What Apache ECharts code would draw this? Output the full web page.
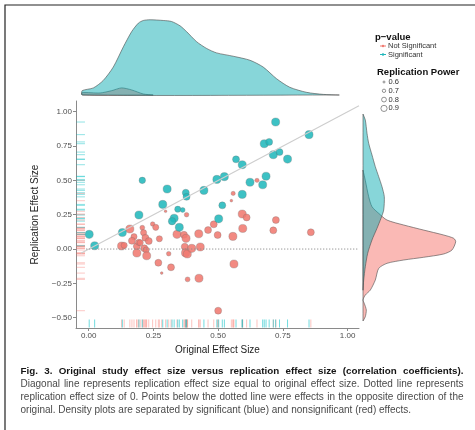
<!DOCTYPE html>
<html>
<head>
<meta charset="utf-8">
<script src="https://cdn.jsdelivr.net/npm/echarts@6/dist/echarts.min.js"></script>
<style>
html,body{margin:0;padding:0;background:#fff;}
#main{width:475px;height:430px;}
</style>
</head>
<body>
<div id="main"></div>
<script>
// significant studies: [original r, replication r, replication power]
var sigPoints = [
    [0.002,0.107,0.92],[0.023,0.024,0.92],[0.130,0.120,0.92],[0.194,0.248,0.92],[0.207,0.500,0.82],
    [0.303,0.437,0.92],[0.286,0.325,0.92],[0.344,0.290,0.80],[0.363,0.284,0.72],[0.330,0.224,0.92],
    [0.322,0.203,0.88],[0.350,0.158,0.92],[0.375,0.410,0.85],[0.378,0.380,0.85],[0.445,0.427,0.92],
    [0.495,0.507,0.92],[0.524,0.527,0.92],[0.516,0.318,0.85],[0.502,0.220,0.92],[0.569,0.653,0.85],
    [0.593,0.614,0.92],[0.722,0.925,0.92],[0.851,0.833,0.92],[0.678,0.767,0.92],[0.697,0.780,0.85],
    [0.713,0.687,0.92],[0.737,0.706,0.85],[0.768,0.655,0.92],[0.685,0.530,0.92],[0.672,0.468,0.92],
    [0.623,0.486,0.92],[0.593,0.398,0.92]
];
// not significant
var nsPoints = [
    [0.159,0.146,0.92],[0.127,0.022,0.92],[0.137,0.027,0.80],[0.175,0.090,0.80],[0.167,0.060,0.85],
    [0.186,0.020,0.85],[0.186,-0.029,0.92],[0.207,0.155,0.72],[0.212,0.119,0.80],[0.219,0.082,0.85],
    [0.232,0.058,0.85],[0.193,0.049,0.80],[0.215,0.005,0.85],[0.222,-0.007,0.80],[0.224,-0.049,0.92],
    [0.247,0.182,0.70],[0.259,0.158,0.80],[0.273,0.075,0.80],[0.269,-0.100,0.85],[0.282,-0.175,0.58],
    [0.309,-0.034,0.70],[0.318,-0.133,0.85],[0.341,0.107,0.92],[0.368,0.104,0.85],[0.376,0.078,0.92],
    [0.371,0.017,0.85],[0.374,-0.028,0.92],[0.381,-0.036,0.92],[0.398,0.005,0.92],[0.378,0.250,0.70],
    [0.382,-0.221,0.72],[0.425,0.111,0.92],[0.431,0.015,0.92],[0.426,-0.213,0.92],[0.461,0.138,0.85],
    [0.483,0.180,0.85],[0.498,0.102,0.85],[0.500,-0.449,0.85],[0.557,0.092,0.92],[0.561,-0.109,0.92],
    [0.558,0.405,0.68],[0.551,0.352,0.58],[0.650,0.500,0.68],[0.593,0.255,0.92],[0.610,0.230,0.85],
    [0.723,0.211,0.85],[0.595,0.150,0.92],[0.713,0.136,0.85],[0.858,0.122,0.85],[0.297,0.275,0.58],
    [0.199,0.046,0.80]
];
// top density (x, height)
var topSig = [[-0.025,4.3],[0.018,7],[0.056,14.3],[0.095,27.6],[0.134,47.6],[0.166,62.6],[0.192,71],
    [0.211,73.6],[0.237,74.3],[0.288,73.6],[0.320,72.6],[0.353,68.3],[0.378,62.6],[0.417,52.6],
    [0.456,45.9],[0.494,41.6],[0.558,38.3],[0.623,34.3],[0.674,27.6],[0.726,16],[0.777,7.6],
    [0.842,2.6],[0.906,0.6],[0.968,0]];
var topNs = [[-0.025,2.3],[0.044,2],[0.089,4.3],[0.127,7],[0.166,5],[0.211,1],[0.249,0]];
// right density (width, y)
var rightSig = [[0,0.983],[2.3,0.94],[4,0.843],[5.7,0.77],[9,0.685],[12.3,0.60],[15.7,0.527],[19,0.454],
    [21.3,0.381],[20.7,0.284],[18,0.224],[14,0.151],[9,0.066],[4.7,-0.031],[2.3,-0.129],[0.7,-0.226],[0,-0.30]];
var rightNs = [[0,0.575],[2.3,0.50],[5.7,0.381],[9,0.308],[15.7,0.26],[24,0.211],[40.7,0.175],[60.7,0.138],
    [80.7,0.102],[90.7,0.078],[92.7,0.053],[89,-0.007],[80.7,-0.036],[60.7,-0.06],[40.7,-0.08],[24,-0.104],
    [15.7,-0.141],[12.3,-0.226],[7.3,-0.299],[2.3,-0.335],[0,-0.371],[1.3,-0.396],[3.3,-0.444],[2.3,-0.493],[0,-0.524]];
var xTicks = [0, 0.25, 0.5, 0.75, 1];
var yTicks = [-0.5, -0.25, 0, 0.25, 0.5, 0.75, 1];
var powerLevels = ['0.6', '0.7', '0.8', '0.9'];
var diagLine = [[-0.03,-0.03],[1.044,1.044]];
var zeroLine = [[-0.01,0],[1.044,0]];

var captionBold = 'Fig. 3. Original study effect size versus replication effect size (correlation coefficients).';
var captionLines = [
    'Diagonal line represents replication effect size equal to original effect size. Dotted line represents',
    'replication effect size of 0. Points below the dotted line were effects in the opposite direction of the',
    'original. Density plots are separated by significant (blue) and nonsignificant (red) effects.'
];

var TEAL = '#22b8bc', RED = '#f07a71';
var xMin = -0.049, xMax = 1.044, yMin = -0.575, yMax = 1.078;

function fmt(v) {
    var s = Math.abs(v).toFixed(2);
    return v < 0 ? '\u2212' + s : s;
}
function ptSize(v) {
    return 2.2 + (v[2] - 0.55) * 16;
}

//  polygon for a density, closed on its baseline
function densitySeries(points, vertical, fill, gridIdx) {
    return {
        type: 'custom',
        xAxisIndex: gridIdx, yAxisIndex: gridIdx,
        silent: true,
        data: [[0, 0]],
        renderItem: function (params, api) {
            var pts = points.map(function (d) { return api.coord(d); });
            var first = points[0], last = points[points.length - 1];
            if (vertical) {
                pts.push(api.coord([0, last[1]]));
                pts.unshift(api.coord([0, first[1]]));
            } else {
                pts.push(api.coord([last[0], 0]));
                pts.unshift(api.coord([first[0], 0]));
            }
            return {
                type: 'polygon',
                shape: { points: pts, smooth: 0.25 },
                style: { fill: fill, stroke: '#4a4a4a', lineWidth: 0.6 }
            };
        }
    };
}

// 文字两端对齐
var measureCtx = document.createElement('canvas').getContext('2d');
function captionText(text, y, weight, color, size, justify) {
    var x0 = 20.5, x1 = 463.5;
    var font = weight + ' ' + size + 'px "Liberation Sans"';
    measureCtx.font = font;
    var words = text.split(' ');
    var widths = words.map(function (w) { return measureCtx.measureText(w).width; });
    var sum = widths.reduce(function (a, b) { return a + b; }, 0);
    var gap = justify ? (x1 - x0 - sum) / (words.length - 1) : measureCtx.measureText(' ').width;
    var els = [];
    var x = x0;
    for (var i = 0; i < words.length; i++) {
        els.push({
            type: 'text', x: x, y: y, silent: true,
            style: { text: words[i], font: font, fill: color, verticalAlign: 'middle' }
        });
        x += widths[i] + gap;
    }
    return els;
}

var graphics = [
    { type: 'rect', shape: { x: 5, y: 5, width: 500, height: 500 }, style: { fill: 'none', stroke: '#222', lineWidth: 1.2 }, silent: true },
    { type: 'text', x: 375, y: 37, style: { text: 'p\u2212value', font: 'bold 9.5px "Liberation Sans"', fill: '#111', verticalAlign: 'middle' } },
    { type: 'line', shape: { x1: 380, y1: 46, x2: 386, y2: 46 }, style: { stroke: RED, lineWidth: 1 } },
    { type: 'circle', shape: { cx: 383, cy: 46, r: 1.2 }, style: { fill: RED } },
    { type: 'text', x: 388, y: 46, style: { text: 'Not Significant', font: '7.5px "Liberation Sans"', fill: '#333', verticalAlign: 'middle' } },
    { type: 'line', shape: { x1: 380, y1: 54.5, x2: 386, y2: 54.5 }, style: { stroke: TEAL, lineWidth: 1 } },
    { type: 'circle', shape: { cx: 383, cy: 54.5, r: 1.2 }, style: { fill: TEAL } },
    { type: 'text', x: 388, y: 54.5, style: { text: 'Significant', font: '7.5px "Liberation Sans"', fill: '#333', verticalAlign: 'middle' } },
    { type: 'text', x: 377, y: 72, style: { text: 'Replication Power', font: 'bold 9.5px "Liberation Sans"', fill: '#111', verticalAlign: 'middle' } }
];
powerLevels.forEach(function (lab, i) {
    var cy = 82 + i * 8.8;
    graphics.push({ type: 'circle', shape: { cx: 384, cy: cy, r: 1 + i * 0.7 }, style: { fill: 'none', stroke: '#666', lineWidth: 0.7 } });
    graphics.push({ type: 'text', x: 388.5, y: cy, style: { text: lab, font: '7.5px "Liberation Sans"', fill: '#333', verticalAlign: 'middle' } });
});
graphics = graphics.concat(captionText(captionBold, 371, 'bold', '#151515', 9.8, true));
captionLines.forEach(function (line, i) {
    graphics = graphics.concat(captionText(line, 384.5 + i * 12.8, 'normal', '#4a4a4a', 10, i < 2));
});

var axisCommon = {
    axisLine: { onZero: false, lineStyle: { color: '#8a8a8a', width: 1 } },
    axisTick: { length: 3, lineStyle: { color: '#8a8a8a' } },
    splitLine: { show: false },
    axisLabel: { fontSize: 8, color: '#4d4d4d', fontFamily: 'Liberation Sans', formatter: fmt }
};

var myChart = echarts.init(document.getElementById('main'));
var option = {
    animation: false,
    backgroundColor: '#fff',
    grid: [
        { left: 76, top: 101, width: 283, height: 227 },
        { left: 76, top: 14, width: 283, height: 81 },
        { left: 363, top: 101, width: 100, height: 227 }
    ],
    xAxis: [
        echarts.util.merge({
            gridIndex: 0, type: 'value', min: xMin, max: xMax,
            name: 'Original Effect Size', nameLocation: 'middle', nameGap: 17,
            nameTextStyle: { fontSize: 10, color: '#222', fontFamily: 'Liberation Sans' },
            axisTick: { customValues: xTicks },
            axisLabel: { customValues: xTicks, margin: 4 }
        }, axisCommon, false),
        { gridIndex: 1, type: 'value', min: xMin, max: xMax, show: false },
        { gridIndex: 2, type: 'value', min: 0, max: 100, show: false }
    ],
    yAxis: [
        echarts.util.merge({
            gridIndex: 0, type: 'value', min: yMin, max: yMax,
            name: 'Replication Effect Size', nameLocation: 'middle', nameGap: 36,
            nameTextStyle: { fontSize: 10, color: '#222', fontFamily: 'Liberation Sans' },
            axisTick: { customValues: yTicks },
            axisLabel: { customValues: yTicks, margin: 4 }
        }, axisCommon, false),
        { gridIndex: 1, type: 'value', min: 0, max: 80, show: false },
        { gridIndex: 2, type: 'value', min: yMin, max: yMax, show: false }
    ],
    series: [
        densitySeries(topNs, false, 'rgba(248,118,109,0.5)', 1),
        densitySeries(topSig, false, 'rgba(0,168,174,0.47)', 1),
        densitySeries(rightNs, true, 'rgba(246,116,107,0.5)', 2),
        densitySeries(rightSig, true, 'rgba(0,168,174,0.47)', 2),
        {
            type: 'line', data: diagLine, symbol: 'none', silent: true,
            lineStyle: { color: '#cdcdcd', width: 1.1 }
        },
        {
            type: 'line', data: zeroLine, symbol: 'none', silent: true,
            lineStyle: { color: '#8f8f8f', width: 1, type: [1.2, 1.8] }
        },
        // rugs
        {
            type: 'scatter', clip: false, silent: true, symbol: 'rect', symbolSize: [8.5, 1], symbolOffset: [4.7, 0],
            data: nsPoints.map(function (p) { return [xMin, p[1]]; }),
            itemStyle: { color: 'rgba(248,118,109,0.5)' }
        },
        {
            type: 'scatter', clip: false, silent: true, symbol: 'rect', symbolSize: [8.5, 1], symbolOffset: [4.7, 0],
            data: sigPoints.map(function (p) { return [xMin, p[1]]; }),
            itemStyle: { color: 'rgba(0,191,196,0.55)' }
        },
        {
            type: 'scatter', clip: false, silent: true, symbol: 'rect', symbolSize: [1, 8], symbolOffset: [0, -4.5],
            data: nsPoints.map(function (p) { return [p[0], yMin]; }),
            itemStyle: { color: 'rgba(248,118,109,0.55)' }
        },
        {
            type: 'scatter', clip: false, silent: true, symbol: 'rect', symbolSize: [1, 8], symbolOffset: [0, -4.5],
            data: sigPoints.map(function (p) { return [p[0], yMin]; }),
            itemStyle: { color: 'rgba(0,191,196,0.7)' }
        },
        {
            name: 'Not Significant', type: 'scatter', data: nsPoints, symbolSize: ptSize,
            itemStyle: { color: RED, opacity: 0.88, borderColor: 'rgba(110,110,110,0.55)', borderWidth: 0.6 }
        },
        {
            name: 'Significant', type: 'scatter', data: sigPoints, symbolSize: ptSize,
            itemStyle: { color: TEAL, opacity: 0.88, borderColor: 'rgba(110,110,110,0.55)', borderWidth: 0.6 }
        }
    ],
    graphic: graphics
};
myChart.setOption(option);
</script>
</body>
</html>
